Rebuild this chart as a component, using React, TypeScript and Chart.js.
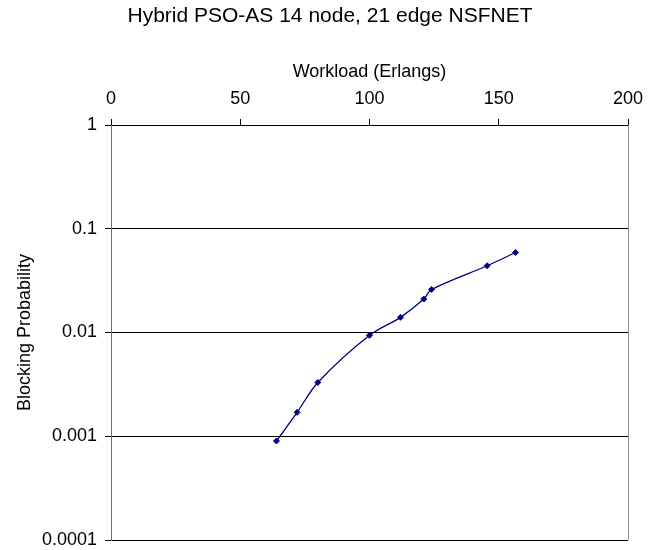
import React, { useEffect, useRef } from "react";
import { Chart, registerables } from "chart.js";

Chart.register(...registerables);

const workload = [64, 72, 80, 100, 112, 121, 124, 145.5, 156.5];
const blocking = [0.0009, 0.0017, 0.0033, 0.0094, 0.014, 0.021, 0.026, 0.044, 0.059];
const yTickValues = [1, 0.1, 0.01, 0.001, 0.0001];
const yTickLabels = ["1", "0.1", "0.01", "0.001", "0.0001"];
const xTickValues = [0, 50, 100, 150, 200];
const xTickLabels = ["0", "50", "100", "150", "200"];
const chartTitle = "Hybrid PSO-AS 14 node, 21 edge NSFNET";

const FONT = "'Liberation Sans', Arial, sans-serif";

export default function App() {
  const ref = useRef<HTMLCanvasElement | null>(null);

  useEffect(() => {
    if (!ref.current) return;
    const decor = {
      id: "decor",
      beforeDatasetsDraw(chart: any) {
        const { ctx, chartArea } = chart;
        ctx.save();
        ctx.strokeStyle = "#909090";
        ctx.lineWidth = 1;
        ctx.beginPath();
        ctx.moveTo(Math.round(chartArea.right) + 0.5, chartArea.top);
        ctx.lineTo(Math.round(chartArea.right) + 0.5, chartArea.bottom);
        ctx.stroke();
        ctx.restore();
      },
      afterDraw(chart: any) {
        const { ctx } = chart;
        ctx.save();
        ctx.fillStyle = "#000";
        ctx.font = `21px ${FONT}`;
        ctx.textAlign = "center";
        ctx.textBaseline = "middle";
        ctx.fillText(chartTitle, 330, 16);
        ctx.restore();
      },
    };
    const chart = new Chart(ref.current, {
      type: "line",
      data: {
        datasets: [
          {
            data: workload.map((x, i) => ({ x, y: blocking[i] })),
            borderColor: "#000080",
            backgroundColor: "#000080",
            borderWidth: 1.3,
            pointStyle: "rectRot",
            pointRadius: 3,
            pointBorderWidth: 1,
            tension: 0.3,
            fill: false,
          },
        ],
      },
      options: {
        animation: false,
        responsive: false,
        layout: { padding: { left: 0, right: 31, top: 0, bottom: 10 } },
        plugins: {
          legend: { display: false },
          tooltip: { enabled: false },
          title: { display: false },
        },
        scales: {
          x: {
            type: "linear",
            position: "top",
            min: 0,
            max: 200,
            afterFit: (s: any) => {
              s.height = 125;
              s.paddingLeft = 0;
              s.paddingRight = 0;
            },
            afterBuildTicks: (s: any) => {
              s.ticks = xTickValues.map((v) => ({ value: v }));
            },
            ticks: {
              color: "#000",
              font: { family: FONT, size: 18 },
              padding: 9,
              maxRotation: 0,
              callback: (_v: any, i: number) => xTickLabels[i],
            },
            grid: {
              drawOnChartArea: false,
              drawTicks: true,
              tickLength: 6,
              color: "#000",
            },
            border: { display: true, color: "#000" },
            title: {
              display: true,
              text: "Workload (Erlangs)",
              color: "#000",
              font: { family: FONT, size: 18 },
              padding: { top: 61, bottom: 0 },
            },
          },
          y: {
            type: "logarithmic",
            min: 0.0001,
            max: 1,
            afterFit: (s: any) => {
              s.width = 111;
              s.paddingTop = 0;
              s.paddingBottom = 0;
            },
            afterBuildTicks: (s: any) => {
              s.ticks = yTickValues.map((v) => ({ value: v }));
            },
            ticks: {
              color: "#000",
              font: { family: FONT, size: 18 },
              padding: 8,
              callback: (v: any) => {
                const i = yTickValues.findIndex((t) => Math.abs(Math.log10(t) - Math.log10(v)) < 1e-6);
                return i >= 0 ? yTickLabels[i] : "";
              },
            },
            grid: {
              drawOnChartArea: true,
              drawTicks: true,
              tickLength: 6,
              color: "#000",
            },
            border: { display: true, color: "#707070" },
            title: {
              display: true,
              text: "Blocking Probability",
              color: "#000",
              font: { family: FONT, size: 18 },
              padding: { top: 14, bottom: 0 },
            },
          },
        },
      },
      plugins: [decor],
    } as any);
    return () => chart.destroy();
  }, []);

  return (
    <div style={{ position: "absolute", left: 0, top: 0, width: 659, height: 550, background: "#fff" }}>
      <canvas ref={ref} width={659} height={550} style={{ display: "block" }} />
    </div>
  );
}
